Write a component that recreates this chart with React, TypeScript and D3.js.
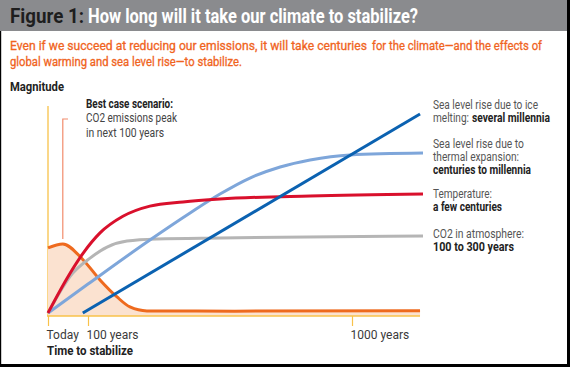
import React, { useEffect, useRef } from 'react';
import * as d3 from 'd3';

// years since today -> magnitude (0..100)
const co2Emissions = [[0, 31.3], [37, 33.2], [88, 25.5], [141, 15.9], [199, 7.7], [243, 2.9], [301, 1.0], [600, 0.9], [1230, 1.1]];
const co2Atmosphere = [[0, 0], [62, 19.2], [107, 26.4], [165, 31.7], [233, 34.6], [335, 35.6], [550, 36.1], [1240, 37.0]];
const temperature = [[0, 0], [47, 16.5], [88, 28.8], [141, 38.5], [219, 46.5], [311, 51.4], [424, 53.4], [550, 54.8], [857, 56.3], [1240, 57.2]];
const thermalExpansion = [[0, 0], [100, 13.9], [311, 35.1], [448, 48.1], [550, 57.2], [652, 64.9], [755, 70.2], [857, 73.6], [993, 76.0], [1240, 76.9]];
const iceMelting = [[87, 0], [1230, 95.7]];

const tickYears = [0, 100, 1000];
const tickLabels = ['Today', '100 years', '1000 years'];

// [text, bold, width, offset]
const seriesLabels: [string, boolean, number, number][][][] = [
  [[['Sea level rise due to ice', false, 105, 0]], [['melting:', false, 36, 0], ['several millennia', true, 78, 39]]],
  [[['Sea level rise due to', false, 91, 0]], [['thermal expansion:', false, 86, 0]], [['centuries to millennia', true, 98, 0]]],
  [[['Temperature:', false, 59, 0]], [['a few centuries', true, 69, 0]]],
  [[['CO2 in atmosphere:', false, 91, 0]], [['100 to 300 years', true, 81, 0]]],
];
const labelTops = [109, 148, 198, 238];

const FONT = "'Liberation Sans Narrow', 'Arial Narrow', Roboto, sans-serif";

export default function App() {
  const axisRef = useRef<SVGGElement>(null);

  const x = d3.scaleLinear().domain([0, 100, 1000, 1240]).range([48, 88, 352, 423]);
  const y = d3.scaleLinear().domain([0, 100]).range([313, 105]);

  const line = d3.line<number[]>().x(d => x(d[0])).y(d => y(d[1])).curve(d3.curveMonotoneX);
  const area = d3.area<number[]>().x(d => x(d[0])).y0(316).y1(d => y(d[1])).curve(d3.curveMonotoneX);

  useEffect(() => {
    const g = d3.select(axisRef.current);
    g.selectAll('*').remove();
    const axis = d3.axisBottom(x)
      .tickValues(tickYears)
      .tickSize(10)
      .tickFormat((_, i) => tickLabels[i]);
    g.call(axis as any);
    g.select('.domain').remove();
    g.selectAll('.tick line').attr('stroke', '#f8c24a').attr('stroke-width', 1.2);
    g.selectAll('.tick text')
      .attr('text-anchor', 'start')
      .attr('dx', -2)
      .attr('y', 14)
      .attr('fill', '#3a3a3a')
      .style('font-family', FONT)
      .style('font-size', '12px');
  }, []);

  return (
    <svg width={570} height={367} style={{ position: 'absolute', left: 0, top: 0, background: '#fff' }} fontFamily={FONT}>
      <rect x={0} y={0} width={567} height={31} fill="#8a8b8e" />
      <rect x={567} y={0} width={3} height={367} fill="#000" />
      <rect x={0} y={364} width={570} height={3} fill="#000" />
      <rect x={0} y={31} width={1.2} height={336} fill="#000" />

      <g fontSize={20} fontWeight="bold">
        <text x={10} y={23} fill="#1e1e1e" textLength={74} lengthAdjust="spacingAndGlyphs">Figure 1:</text>
        <text x={88} y={23} fill="#fff" textLength={330} lengthAdjust="spacingAndGlyphs">How long will it take our climate to stabilize?</text>
      </g>
      <g fill="#f0641e" stroke="#f0641e" strokeWidth={0.3} fontSize={12.8}>
        <text x={10} y={50} textLength={357} lengthAdjust="spacingAndGlyphs">Even if we succeed at reducing our emissions, it will take centuries</text>
        <text x={372} y={50} textLength={170} lengthAdjust="spacingAndGlyphs">for the climate—and the effects of</text>
        <text x={10} y={66} textLength={232} lengthAdjust="spacingAndGlyphs">global warming and sea level rise—to stabilize.</text>
      </g>

      <text x={10} y={91} fontSize={13} fontWeight="bold" fill="#222" textLength={54} lengthAdjust="spacingAndGlyphs">Magnitude</text>

      {/* y axis */}
      <line x1={48} x2={48} y1={106} y2={316} stroke="#f8c24a" strokeWidth={1.3} />

      <path d={area(co2Emissions) ?? ''} fill="#fbe2d0" />
      <line x1={47} x2={420} y1={316} y2={316} stroke="#f8c24a" strokeWidth={1.5} />
      <g ref={axisRef} transform="translate(0,316)" />

      <path d={line(co2Emissions) ?? ''} fill="none" stroke="#ee6a1e" strokeWidth={3} />
      <path d={line(co2Atmosphere) ?? ''} fill="none" stroke="#b5b5b5" strokeWidth={3} />
      <path d={line(thermalExpansion) ?? ''} fill="none" stroke="#7ea6da" strokeWidth={3} />
      <path d={line(temperature) ?? ''} fill="none" stroke="#d9102c" strokeWidth={3} />
      <path d={line(iceMelting) ?? ''} fill="none" stroke="#0b62b1" strokeWidth={3} />

      {/* best case pointer */}
      <path d={`M68,119 H${x(37)} V239`} fill="none" stroke="#f28c6c" strokeWidth={1.2} />
      <g fontSize={12}>
        <text x={86} y={108} fontWeight="bold" fill="#222" textLength={87} lengthAdjust="spacingAndGlyphs">Best case scenario:</text>
        <text x={86} y={122} fill="#444" textLength={91} lengthAdjust="spacingAndGlyphs">CO2 emissions peak</text>
        <text x={86} y={137} fill="#444" textLength={78} lengthAdjust="spacingAndGlyphs">in next 100 years</text>
      </g>

      <g fontSize={12}>
        {seriesLabels.map((s, i) =>
          s.map((ln, j) =>
            ln.map(([t, bold, w, off], k) => (
              <text key={`${i}-${j}-${k}`} x={433 + off} y={labelTops[i] + j * 13}
                fill={bold ? '#222' : '#555'} fontWeight={bold ? 'bold' : 'normal'}
                textLength={w} lengthAdjust="spacingAndGlyphs">{t}</text>
            ))
          )
        )}
      </g>

      <text x={47} y={355} fontSize={13} fontWeight="bold" fill="#222" textLength={86} lengthAdjust="spacingAndGlyphs">Time to stabilize</text>
    </svg>
  );
}
